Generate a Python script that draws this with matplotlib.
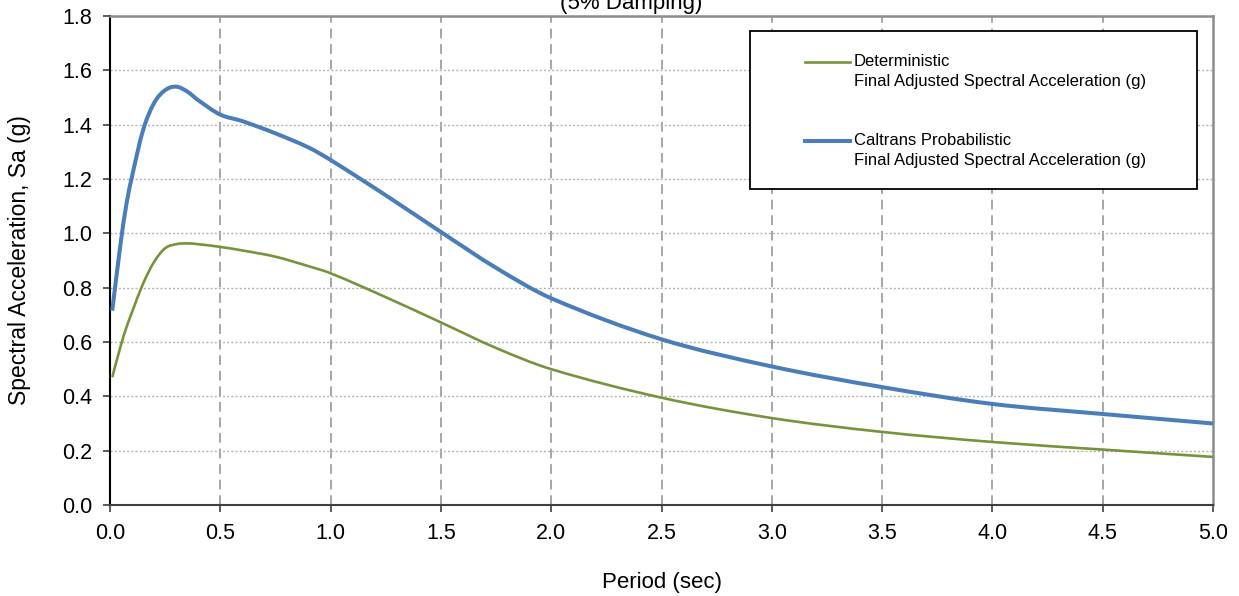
import numpy as np
import matplotlib.pyplot as plt
from matplotlib.patches import Rectangle, PathPatch
from matplotlib.path import Path

plt.rcParams['font.family'] = ['Liberation Sans', 'DejaVu Sans']

# -- -----------------------------
# Data
period = [0.01, 0.05, 0.075, 0.1, 0.15, 0.2, 0.25, 0.3, 0.35, 0.4, 0.5, 0.6,
          0.75, 0.9, 1.0, 1.25, 1.5, 1.75, 2.0, 2.5, 3.0, 3.5, 4.0,
          4.5, 5.0]

sa_caltrans = [0.715, 0.975, 1.11, 1.21, 1.38, 1.48, 1.527, 1.54, 1.522, 1.49,
               1.437, 1.413, 1.368, 1.316, 1.27, 1.14, 1.005, 0.873, 0.761,
               0.61, 0.51, 0.434, 0.372, 0.335, 0.30]

sa_determ = [0.47, 0.59, 0.655, 0.71, 0.815, 0.895, 0.945, 0.96, 0.963, 0.96,
             0.95, 0.937, 0.914, 0.879, 0.853, 0.765, 0.672, 0.578, 0.50,
             0.395, 0.32, 0.269, 0.232, 0.204, 0.177]

x_ticks = [0.0, 0.5, 1.0, 1.5, 2.0, 2.5, 3.0, 3.5, 4.0, 4.5, 5.0]
y_ticks = [0.0, 0.2, 0.4, 0.6, 0.8, 1.0, 1.2, 1.4, 1.6, 1.8]

label_determ = ['Deterministic', 'Final Adjusted Spectral Acceleration (g)']
label_caltrans = ['Caltrans Probabilistic', 'Final Adjusted Spectral Acceleration (g)']

GREEN = '#77933c'
BLUE = '#4a7ebb'


# -- -----------------------------
def smooth_path(xs, ys):
    """Smoothed line through the points: cubic Hermite segments
    (as Bezier curves) with slopes from neighbouring points."""
    x = np.asarray(xs, float)
    y = np.asarray(ys, float)
    n = len(x)
    m = np.empty(n)
    m[0] = (y[1] - y[0]) / (x[1] - x[0])
    m[-1] = (y[-1] - y[-2]) / (x[-1] - x[-2])
    m[1:-1] = (y[2:] - y[:-2]) / (x[2:] - x[:-2])
    verts = [(x[0], y[0])]
    codes = [Path.MOVETO]
    for i in range(n - 1):
        h = x[i + 1] - x[i]
        verts += [(x[i] + h / 3, y[i] + m[i] * h / 3),
                  (x[i + 1] - h / 3, y[i + 1] - m[i + 1] * h / 3),
                  (x[i + 1], y[i + 1])]
        codes += [Path.CURVE4] * 3
    return Path(verts, codes)


# -- -----------------------------
fig = plt.figure(figsize=(12.39, 5.96), dpi=100)
ax = fig.add_axes([110 / 1239, 1 - 505 / 596, 1103 / 1239, 489 / 596])

ax.set_xlim(0, 5)
ax.set_ylim(0, 1.8)
ax.set_xticks(x_ticks)
ax.set_yticks(y_ticks)
ax.set_xticklabels(['%.1f' % v for v in x_ticks])
ax.set_yticklabels(['%.1f' % v for v in y_ticks])

# grid: dashed vertical, dotted horizontal
for xv in x_ticks[1:-1]:
    ax.axvline(xv, color='#a6a6a6', lw=1.4, dashes=(5, 3), zorder=1)
for yv in y_ticks[1:-1]:
    ax.axhline(yv, color='#b4b4b4', lw=1.0, dashes=(1.5, 1.5), zorder=1)

for xs, ys, col, lw, z in [(period, sa_determ, GREEN, 1.9, 3),
                           (period, sa_caltrans, BLUE, 2.9, 4)]:
    ax.add_patch(PathPatch(smooth_path(xs, ys), facecolor='none',
                           edgecolor=col, lw=lw, zorder=z, capstyle='butt'))

# -- -----------------------------
# spines and ticks
ax.spines['left'].set_color('black')
ax.spines['left'].set_linewidth(1.5)
ax.spines['bottom'].set_color('#404040')
ax.spines['bottom'].set_linewidth(1.5)
ax.spines['top'].set_color('#8c8c8c')
ax.spines['top'].set_linewidth(1.8)
ax.spines['right'].set_color('#8c8c8c')
ax.spines['right'].set_linewidth(1.8)

ax.tick_params(axis='both', direction='out', length=5, width=1.2,
               color='#404040', labelsize=15.5, pad=8)
ax.tick_params(top=False, right=False)

ax.set_ylabel('Spectral Acceleration, Sa (g)', fontsize=16.5, labelpad=22)
ax.set_xlabel('Period (sec)', fontsize=16, labelpad=20)

fig.text(631 / 1239, 1 - 9 / 596, '(5% Damping)', fontsize=16,
         ha='center', va='baseline')

# -- -----------------------------
# legend box drawn by hand so the handle sits on the first text line
ax.add_patch(Rectangle((0.580, 0.646), 0.4055, 0.323, transform=ax.transAxes,
                       facecolor='white', edgecolor='black', lw=1.3, zorder=6))

entries = [(label_determ, GREEN, 1.9, 0.9065), (label_caltrans, BLUE, 2.9, 0.745)]
for lines, col, lw, yy in entries:
    ax.plot([0.630, 0.671], [yy, yy], color=col, lw=lw, transform=ax.transAxes,
            zorder=7, clip_on=False)
    ax.text(0.6745, yy, lines[0], transform=ax.transAxes, fontsize=12,
            va='center', ha='left', zorder=7)
    ax.text(0.6745, yy - 20 / 489, lines[1], transform=ax.transAxes,
            fontsize=12, va='center', ha='left', zorder=7)

fig.savefig('out.png', dpi=100)
